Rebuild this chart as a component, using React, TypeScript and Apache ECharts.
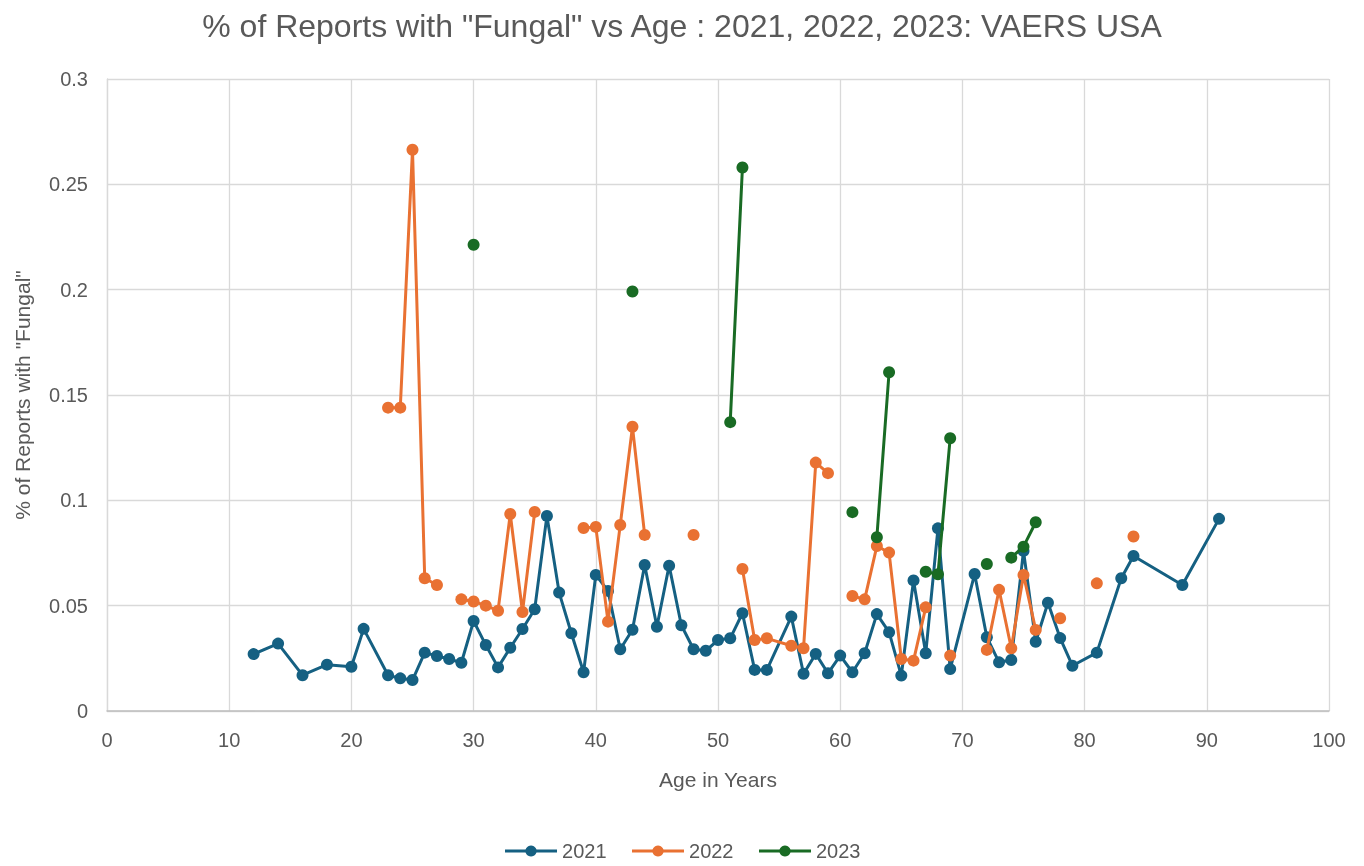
import React, { useEffect, useRef } from "react";
import * as echarts from "echarts";

const titleText = '% of Reports with "Fungal" vs Age : 2021, 2022, 2023: VAERS USA';
const xAxisName = "Age in Years";
const yAxisName = '% of Reports with "Fungal"';
const seriesNames = ["2021", "2022", "2023"];

// null = no data at that age (gap in the line)
const ages2021 = [12, 14, 16, 18, 20, 21, 23, 24, 25, 26, 27, 28, 29, 30, 31, 32, 33, 34, 35, 36, 37, 38, 39, 40, 41, 42, 43, 44, 45, 46, 47, 48, 49, 50, 51, 52, 53, 54, 56, 57, 58, 59, 60, 61, 62, 63, 64, 65, 66, 67, 68, 69, 71, 72, 73, 74, 75, 76, 77, 78, 79, 81, 83, 84, 88, 91];
const vals2021 = [0.027, 0.032, 0.017, 0.022, 0.021, 0.039, 0.017, 0.0155, 0.0147, 0.0277, 0.0261, 0.0247, 0.0229, 0.0427, 0.0313, 0.0207, 0.030, 0.0389, 0.0483, 0.0926, 0.0562, 0.0369, 0.0184, 0.0646, 0.057, 0.0293, 0.0386, 0.0693, 0.040, 0.069, 0.0407, 0.0293, 0.0286, 0.0337, 0.0345, 0.0464, 0.0195, 0.0195, 0.0448, 0.0177, 0.0271, 0.0179, 0.0263, 0.0184, 0.0274, 0.046, 0.0374, 0.0168, 0.062, 0.0274, 0.0867, 0.0199, 0.065, 0.035, 0.0231, 0.0242, 0.076, 0.0329, 0.0514, 0.0346, 0.0215, 0.0277, 0.063, 0.0736, 0.0598, 0.0912];

const ages2022 = [23, 24, 25, 26, 27, 28, 29, 30, 31, 32, 33, 34, 35, 36, 39, 40, 41, 42, 43, 44, 45, 48, 49, 52, 53, 54, 56, 57, 58, 59, 60, 61, 62, 63, 64, 65, 66, 67, 68, 69, 70, 72, 73, 74, 75, 76, 77, 78, 79, 81, 82, 84];
const vals2022 = [0.144, 0.144, 0.2664, 0.063, 0.0598, null, 0.053, 0.052, 0.050, 0.0476, 0.0935, 0.047, 0.0945, null, 0.0869, 0.0874, 0.0424, 0.0883, 0.1349, 0.0836, null, 0.0836, null, 0.0674, 0.0337, 0.0345, 0.031, 0.0298, 0.1179, 0.1129, null, 0.0546, 0.053, 0.0783, 0.0752, 0.0247, 0.0239, 0.0492, null, 0.0263, null, 0.029, 0.0575, 0.0298, 0.0646, 0.0385, null, 0.044, null, 0.0606, null, 0.0828];

const ages2023 = [30, 31, 43, 44, 51, 52, 53, 61, 62, 63, 64, 65, 67, 68, 69, 70, 72, 73, 74, 75, 76];
const vals2023 = [0.2213, null, 0.1991, null, 0.1371, 0.258, null, 0.0944, null, 0.0825, 0.1608, null, 0.0661, 0.0649, 0.1295, null, 0.0698, null, 0.0728, 0.078, 0.0896];

const colors = ["#156082", "#E97132", "#196B24"];
const FONT = "Liberation Sans, Arial, sans-serif";

function pairs(ages: number[], vals: (number | null)[]) {
  return ages.map((a, i) => [a, vals[i] === null ? "-" : vals[i]]);
}

export default function App() {
  const ref = useRef<HTMLDivElement>(null);
  useEffect(() => {
    if (!ref.current) return;
    const chart = echarts.init(ref.current, null, { renderer: "svg" });
    const datasets = [
      pairs(ages2021, vals2021),
      pairs(ages2022, vals2022),
      pairs(ages2023, vals2023),
    ];
    chart.setOption({
      animation: false,
      color: colors,
      title: {
        text: titleText,
        left: "center",
        top: 5,
        textStyle: { fontFamily: FONT, fontSize: 32, fontWeight: "normal", color: "#595959" },
      },
      legend: {
        data: seriesNames,
        top: 836,
        left: "center",
        padding: 5,
        itemWidth: 52,
        itemHeight: 14,
        itemGap: 24,
        lineStyle: { width: 3 },
        textStyle: { fontFamily: FONT, fontSize: 20, color: "#595959" },
      },
      grid: { left: 107, right: 35, top: 79, bottom: 155, containLabel: false },
      xAxis: {
        type: "value",
        min: 0,
        max: 100,
        interval: 10,
        name: xAxisName,
        nameLocation: "middle",
        nameGap: 58,
        nameTextStyle: { fontFamily: FONT, fontSize: 21, color: "#595959" },
        axisLine: { show: true, lineStyle: { color: "#bfbfbf", width: 1.5 } },
        axisTick: { show: false },
        axisLabel: { margin: 19, fontFamily: FONT, fontSize: 20, color: "#595959" },
        splitLine: { show: true, lineStyle: { color: "#d9d9d9", width: 1.3 } },
      },
      yAxis: {
        type: "value",
        min: 0,
        max: 0.3,
        interval: 0.05,
        name: yAxisName,
        nameLocation: "middle",
        nameGap: 74,
        nameRotate: 90,
        nameTextStyle: { fontFamily: FONT, fontSize: 21, color: "#595959" },
        axisLine: { show: true, lineStyle: { color: "#d9d9d9", width: 1.3 } },
        axisTick: { show: false },
        axisLabel: { margin: 19, fontFamily: FONT, fontSize: 20, color: "#595959" },
        splitLine: { show: true, lineStyle: { color: "#d9d9d9", width: 1.3 } },
      },
      series: seriesNames.map((n, i) => ({
        name: n,
        type: "line",
        data: datasets[i],
        connectNulls: false,
        showSymbol: true,
        showAllSymbol: true,
        symbol: "circle",
        symbolSize: 12,
        lineStyle: { width: 3, color: colors[i] },
        itemStyle: { color: colors[i] },
        z: 2 + i,
      })),
    });
    return () => chart.dispose();
  }, []);
  return (
    <div
      ref={ref}
      style={{ position: "fixed", left: 0, top: 0, width: 1364, height: 866 }}
    />
  );
}
